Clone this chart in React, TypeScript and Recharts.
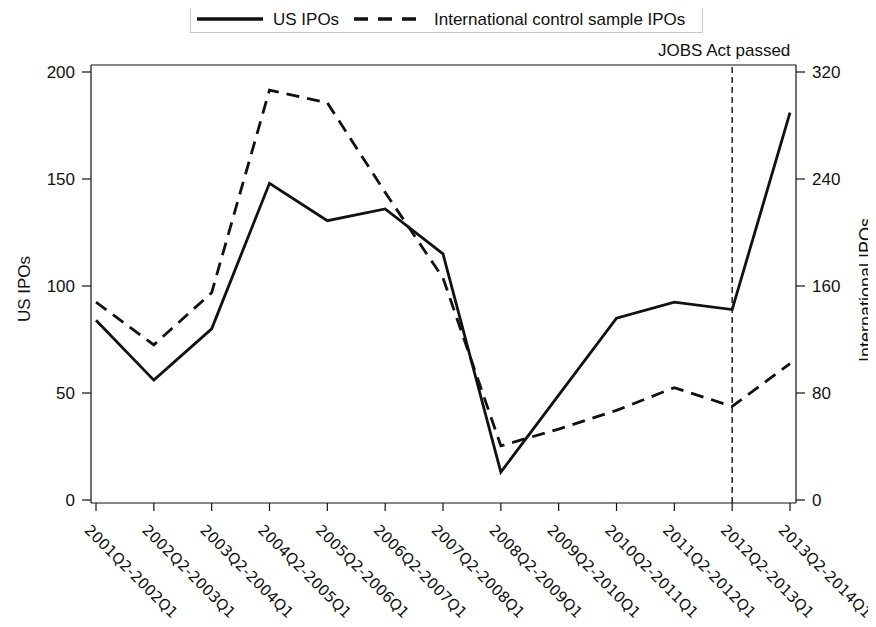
import React from "react";
import {
  LineChart,
  Line,
  XAxis,
  YAxis,
  ReferenceLine,
  Legend,
} from "recharts";

const categories = [
  "2001Q2-2002Q1",
  "2002Q2-2003Q1",
  "2003Q2-2004Q1",
  "2004Q2-2005Q1",
  "2005Q2-2006Q1",
  "2006Q2-2007Q1",
  "2007Q2-2008Q1",
  "2008Q2-2009Q1",
  "2009Q2-2010Q1",
  "2010Q2-2011Q1",
  "2011Q2-2012Q1",
  "2012Q2-2013Q1",
  "2013Q2-2014Q1",
];
const usIPOs = [84, 56, 80, 148, 130.5, 136, 115, 13, 49, 85, 92.5, 89, 181];
const intlIPOs = [148, 116, 155, 306.5, 297, 230, 166, 40.5, 53, 67, 84, 70, 102];
const leftTicks = [0, 50, 100, 150, 200];
const rightTicks = [0, 80, 160, 240, 320];
const eventCategory = "2012Q2-2013Q1";
const eventLabel = "JOBS Act passed";

const data = categories.map((c, i) => ({ period: c, us: usIPOs[i], intl: intlIPOs[i] }));

const FONT = "'Liberation Sans', Arial, sans-serif";
const INK = "#111";

const XTick = (props: any) => {
  const { x, y, payload } = props;
  return (
    <g transform={`translate(${x - 12.5},${y + 18})`}>
      <text
        transform="rotate(45)"
        textAnchor="start"
        fontFamily="'DejaVu Sans', sans-serif"
        fontSize={15}
        fill={INK}
      >
        {payload.value}
      </text>
    </g>
  );
};

const LeftTitle = (props: any) => {
  const vb = props.viewBox || {};
  const cx = 30;
  const cy = vb.y + vb.height / 2 + 5;
  return (
    <text
      x={cx}
      y={cy}
      transform={`rotate(-90 ${cx} ${cy})`}
      textAnchor="middle"
      fontFamily={FONT}
      fontSize={17}
      fill={INK}
    >
      US IPOs
    </text>
  );
};

const RightTitle = (props: any) => {
  const vb = props.viewBox || {};
  const cx = 872;
  const cy = vb.y + vb.height / 2 + 6;
  return (
    <text
      x={cx}
      y={cy}
      transform={`rotate(-90 ${cx} ${cy})`}
      textAnchor="middle"
      fontFamily={FONT}
      fontSize={18}
      fill={INK}
    >
      International IPOs
    </text>
  );
};

const EventLabel = (props: any) => {
  const vb = props.viewBox || {};
  return (
    <text
      x={vb.x - 8}
      y={vb.y - 9}
      textAnchor="middle"
      fontFamily={FONT}
      fontSize={17}
      fill={INK}
    >
      {eventLabel}
    </text>
  );
};

const LegendBox = () => (
  <div
    style={{
      position: "relative",
      width: 513,
      height: 28,
      border: "1px solid #c8c8c8",
      boxSizing: "border-box",
      background: "#fff",
    }}
  >
    <svg width={513} height={28} style={{ position: "absolute", left: -1, top: -1 }}>
      <line x1={7} x2={73} y1={14} y2={14} stroke={INK} strokeWidth={3.5} />
      <line x1={164} x2={226} y1={14} y2={14} stroke={INK} strokeWidth={3.5} strokeDasharray="14 10" />
      <text x={83} y={20} fontFamily={FONT} fontSize={17} fill={INK}>US IPOs</text>
      <text x={244} y={20} fontFamily={FONT} fontSize={17} fill={INK}>International control sample IPOs</text>
    </svg>
  </div>
);

export default function App() {
  return (
    <div style={{ margin: -8, width: 876, height: 627, background: "#fff" }}>
      <LineChart
        width={876}
        height={627}
        data={data}
        margin={{ top: 64, right: 0, bottom: 0, left: 0 }}
      >
        <XAxis
          dataKey="period"
          interval={0}
          padding={{ left: 5, right: 6 }}
          height={124}
          tickSize={8}
          tickMargin={2}
          tick={<XTick />}
          axisLine={{ stroke: INK, strokeWidth: 1.2 }}
          tickLine={{ stroke: INK, strokeWidth: 1.2 }}
        />
        <XAxis
          xAxisId="top"
          dataKey="period"
          orientation="top"
          height={1}
          tick={false}
          tickLine={false}
          axisLine={{ stroke: INK, strokeWidth: 1.2 }}
        />
        <YAxis
          yAxisId="L"
          domain={[0, 200]}
          ticks={leftTicks}
          padding={{ top: 7, bottom: 3 }}
          width={91}
          tickSize={9}
          tickMargin={7}
          tick={{ fontFamily: FONT, fontSize: 17, fill: INK }}
          axisLine={{ stroke: INK, strokeWidth: 1.2 }}
          tickLine={{ stroke: INK, strokeWidth: 1.2 }}
          label={LeftTitle}
        />
        <YAxis
          yAxisId="R"
          orientation="right"
          domain={[0, 320]}
          ticks={rightTicks}
          padding={{ top: 7, bottom: 3 }}
          width={80}
          tickSize={9}
          tickMargin={7}
          tick={{ fontFamily: FONT, fontSize: 17, fill: INK }}
          axisLine={{ stroke: INK, strokeWidth: 1.2 }}
          tickLine={{ stroke: INK, strokeWidth: 1.2 }}
          label={RightTitle}
        />
        <Legend
          layout="vertical"
          align="center"
          verticalAlign="middle"
          content={<LegendBox />}
          wrapperStyle={{ position: "absolute", top: 5, left: 190, width: 513, height: 28 }}
        />
        <ReferenceLine
          x={eventCategory}
          yAxisId="L"
          stroke={INK}
          strokeWidth={1.4}
          strokeDasharray="6 4"
          label={<EventLabel />}
        />
        <Line
          yAxisId="L"
          dataKey="us"
          name="US IPOs"
          stroke={INK}
          strokeWidth={2.8}
          dot={false}
          isAnimationActive={false}
        />
        <Line
          yAxisId="R"
          dataKey="intl"
          name="International control sample IPOs"
          stroke={INK}
          strokeWidth={2.8}
          strokeDasharray="13 8"
          dot={false}
          isAnimationActive={false}
        />
      </LineChart>
    </div>
  );
}
